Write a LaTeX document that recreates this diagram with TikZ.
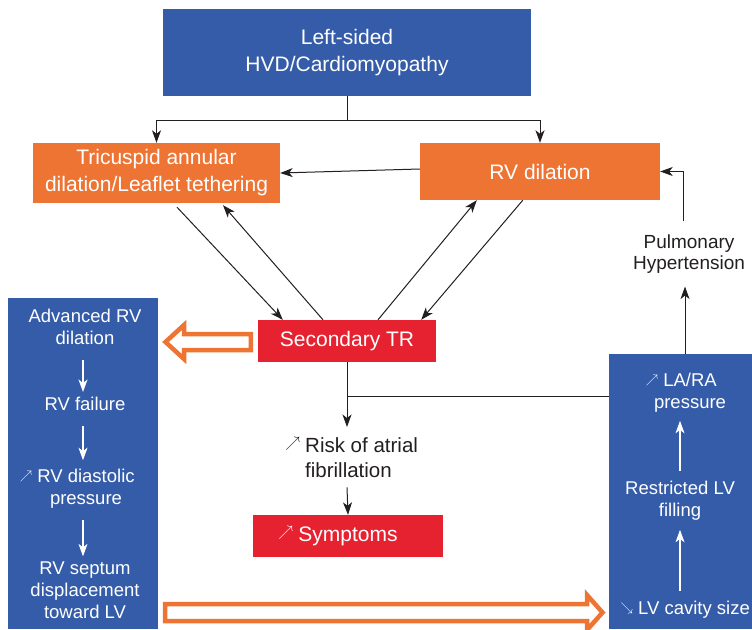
\documentclass[tikz,border=0pt]{standalone}
\usepackage{fontspec}
\usepackage{graphicx}
\setmainfont{Liberation Sans}
\usetikzlibrary{arrows.meta,calc}
\definecolor{cblue}{HTML}{355CA8}
\definecolor{corange}{HTML}{EE7433}
\definecolor{cred}{HTML}{E62231}
\definecolor{ctext}{HTML}{231F20}
\newcommand{\hup}{\makebox[0pt][r]{\raisebox{0.2em}{\scalebox{0.72}{$\nearrow$}}\hspace{5pt}}}
\newcommand{\hdn}{\makebox[0pt][r]{\raisebox{0.2em}{\scalebox{0.72}{$\searrow$}}\hspace{5pt}}}
\begin{document}
\begin{tikzpicture}[x=1pt,y=-1pt,
  box/.style={draw=none, inner sep=0pt, align=center, text=white, font=\fontsize{21}{27}\selectfont},
  panel/.style={draw=none, fill=cblue, inner sep=0pt},
  line/.style={draw=ctext, line width=1pt},
  conn/.style={draw=ctext, line width=1pt, -{Stealth[length=12.5pt,width=9pt,inset=3.5pt]}},
  wconn/.style={draw=white, line width=1.2pt, -{Stealth[length=12.5pt,width=9pt,inset=3.5pt]}},
  ptext/.style={text=white, align=center, font=\fontsize{18.5}{22}\selectfont, inner sep=0pt},
  btext/.style={text=ctext, inner xsep=0pt},
  hollow/.style={draw=corange, fill=white, line width=4.5pt, line join=miter}
]
\useasboundingbox (0,0) rectangle (752,629);

% main boxes
\node[box, fill=cblue, minimum width=368pt, minimum height=87pt] (top) at (347,52.5) {Left-sided\\HVD/Cardiomyopathy};
\node[box, fill=corange, minimum width=247pt, minimum height=60pt] (tta) at (156.5,173) {Tricuspid annular\\dilation/Leaflet tethering};
\node[box, fill=corange, minimum width=240pt, minimum height=57pt] (rv) at (540,171.5) {RV dilation};
\node[box, fill=cred, minimum width=178pt, minimum height=42pt] (tr) at (347,341) {Secondary TR};
\node[box, fill=cred, minimum width=190pt, minimum height=42pt] (sym) at (348,536) {\hup Symptoms};

% side panels
\node[panel, minimum width=150pt, minimum height=331pt] (lp) at (83,463.5) {};
\node[panel, minimum width=143pt, minimum height=275pt] (rp) at (680.5,491.5) {};

% free texts
\node[btext, anchor=north west, inner ysep=10pt, align=left, font=\fontsize{20.5}{25}\selectfont] (risk) at (305,427) {\hup Risk of atrial\\fibrillation};
\node[btext, inner ysep=13pt, align=center, font=\fontsize{19}{21}\selectfont] (pulm) at (689,254) {Pulmonary\\Hypertension};

% left panel texts
\node[ptext] (l1) at (85,327) {Advanced RV\\dilation};
\node[ptext] (l2) at (85,404) {RV failure};
\node[ptext] (l3) at (86,489) {\hup RV diastolic\\pressure};
\node[ptext] (l4) at (85,590) {RV septum\\displacement\\toward LV};

% right panel texts
\node[ptext] (r1) at (690,393) {\hup LA/RA\\pressure};
\node[ptext] (r2) at (680,501) {Restricted LV\\filling};
\node[ptext] (r3) at (694,610) {\hdn LV cavity size};

% connectors
\coordinate (j1) at ($(top.south)+(0,24)$);
\draw[line] (top.south) -- (j1);
\draw[conn] (j1) -| (tta.north);
\draw[conn] (j1) -| (rv.north);
\draw[conn] ($(rv.west)+(0,-2.5)$) -- (tta.east);

\draw[conn] ($(tta.south)+(20.5,4)$) -- ($(tr.north west)+(25,0)$);
\draw[conn] ($(tr.north)+(-24,0)$) -- ($(tta.south)+(66.5,2)$);
\draw[conn] ($(tr.north)+(31,0)$) -- ($(rv.south west)+(57,0)$);
\draw[conn] ($(rv.south west)+(103,0)$) -- ($(tr.north east)+(-15,0)$);

\coordinate (j2) at ($(tr.south)+(0,34)$);
\draw[line] (tr.south) -- (j2);
\draw[line] (j2) -- (j2 -| rp.west);
\draw[conn] (j2) -- (j2 |- risk.north);
\draw[conn] (j2 |- risk.south) -- (sym.north);

\coordinate (pb) at ($(rp.north)+(4.5,0)$);
\draw[conn] (pb) -- (pb |- pulm.south);
\draw[conn] ($(pulm.north)+(-6,0)$) |- (rv.east);

% white arrows in panels
\draw[wconn, shorten <=15pt, shorten >=5pt] (l1.south -| lp.center) -- (l2.north -| lp.center);
\draw[wconn, shorten <=15pt, shorten >=9pt] (l2.south -| lp.center) -- (l3.north -| lp.center);
\draw[wconn, shorten <=11pt, shorten >=5pt] (l3.south -| lp.center) -- (l4.north -| lp.center);
\draw[wconn, shorten <=10pt, shorten >=9pt, xshift=-3pt] (r3.north -| r2.north) -- (r2.south);
\draw[wconn, shorten <=10pt, shorten >=8pt, xshift=-3pt] (r2.north) -- (r1.south -| r2.north);

% hollow arrows
\draw[hollow] ($(tr.west)+(-7,-7)$) -- (184,334) -- (184,325) -- (165.5,342) -- (184,359) -- (184,350) -- ($(tr.west)+(-7,9)$) -- cycle;
\draw[hollow] ($(lp.east)+(7,140.5)$) -- (587,604) -- (587,595) -- (602.5,612.5) -- (587,630) -- (587,621) -- ($(lp.east)+(7,157.5)$) -- cycle;
\end{tikzpicture}
\end{document}
